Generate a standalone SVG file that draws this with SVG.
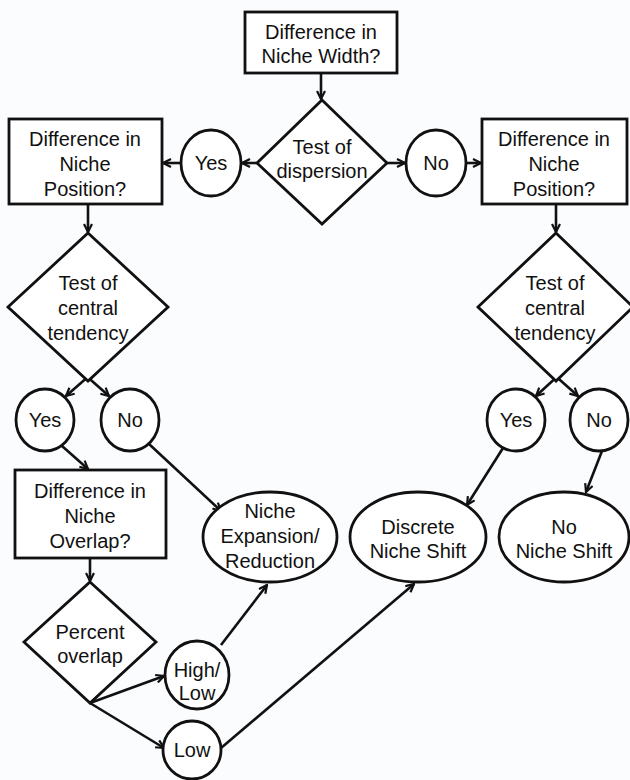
<svg xmlns="http://www.w3.org/2000/svg" width="630" height="780" viewBox="0 0 630 780">
<defs>
<marker id="ah" viewBox="0 0 10 10" refX="9" refY="5" markerWidth="10" markerHeight="10" markerUnits="userSpaceOnUse" orient="auto">
<path d="M1,1 L9,5 L1,9" fill="none" stroke="#111" stroke-width="2.2" stroke-linejoin="miter"/>
</marker>
<style>
.s{fill:#ffffff;stroke:#111;stroke-width:2.8}
.t{font-family:"Liberation Sans",Arial,sans-serif;font-size:20px;fill:#111;text-anchor:middle}
.c{fill:none;stroke:#111;stroke-width:2.6}
.a{marker-end:url(#ah)}
</style>
</defs>
<rect width="630" height="780" fill="#fbfcfe"/>
<g id="connectors" class="c">
<line class="a" x1="321" y1="73" x2="321" y2="99"/>
<line class="a" x1="257" y1="163" x2="242" y2="163"/>
<line class="a" x1="181" y1="163" x2="163" y2="163"/>
<line class="a" x1="387" y1="163" x2="405" y2="163"/>
<line class="a" x1="466" y1="163" x2="481" y2="163"/>
<line class="a" x1="88" y1="204" x2="88" y2="232"/>
<line class="a" x1="556" y1="204" x2="556" y2="232"/>
<line class="a" x1="168" y1="307" x2="66" y2="396"/>
<line class="a" x1="8" y1="307" x2="109" y2="396"/>
<line class="a" x1="633" y1="307" x2="536" y2="396"/>
<line class="a" x1="478" y1="307" x2="578" y2="396"/>
<line class="a" x1="62" y1="446" x2="88" y2="469"/>
<line class="a" x1="149" y1="444" x2="221" y2="511"/>
<line class="a" x1="503" y1="448" x2="467" y2="505"/>
<line class="a" x1="602" y1="451" x2="586" y2="492"/>
<line class="a" x1="90" y1="558" x2="90" y2="581"/>
<line class="a" x1="90" y1="703" x2="164" y2="676"/>
<line class="a" x1="90" y1="703" x2="164" y2="748"/>
<line class="a" x1="221" y1="645" x2="267" y2="585"/>
<line class="a" x1="221" y1="748" x2="414" y2="584"/>
</g>
<g id="n-width"><rect class="s" x="245" y="12" width="152" height="61"/><text class="t" x="321" y="39">Difference in</text><text class="t" x="321" y="63">Niche Width?</text></g>
<g id="n-dispersion"><polygon class="s" points="322,100 387,163 322,224 257,163"/><text class="t" x="322" y="154">Test of</text><text class="t" x="322" y="178">dispersion</text></g>
<g id="n-yes1"><ellipse class="s" cx="211" cy="163" rx="30" ry="33"/><text class="t" x="211" y="170">Yes</text></g>
<g id="n-no1"><ellipse class="s" cx="436" cy="163" rx="30" ry="33"/><text class="t" x="436" y="170">No</text></g>
<g id="n-posL"><rect class="s" x="9" y="119" width="153" height="85"/><text class="t" x="85" y="146">Difference in</text><text class="t" x="85" y="171">Niche</text><text class="t" x="85" y="196">Position?</text></g>
<g id="n-posR"><rect class="s" x="482" y="119" width="145" height="85"/><text class="t" x="554" y="146">Difference in</text><text class="t" x="554" y="171">Niche</text><text class="t" x="554" y="196">Position?</text></g>
<g id="n-ctL"><path class="s" d="M88,233 L168,307 L88,381 L8,307 Z"/><text class="t" x="88" y="290">Test of</text><text class="t" x="88" y="315">central</text><text class="t" x="88" y="340">tendency</text></g>
<g id="n-ctR"><path class="s" d="M556,233 L633,307 L556,381 L478,307 Z"/><text class="t" x="555" y="290">Test of</text><text class="t" x="555" y="315">central</text><text class="t" x="555" y="340">tendency</text></g>
<g id="n-yesL"><ellipse class="s" cx="45" cy="420" rx="29" ry="31"/><text class="t" x="45" y="427">Yes</text></g>
<g id="n-noL"><ellipse class="s" cx="130" cy="420" rx="29" ry="31"/><text class="t" x="130" y="427">No</text></g>
<g id="n-yesR"><ellipse class="s" cx="516" cy="420" rx="29" ry="31"/><text class="t" x="516" y="427">Yes</text></g>
<g id="n-noR"><ellipse class="s" cx="599" cy="420" rx="29" ry="31"/><text class="t" x="599" y="427">No</text></g>
<g id="n-overlap"><rect class="s" x="15" y="470" width="151" height="88"/><text class="t" x="90" y="498">Difference in</text><text class="t" x="90" y="523">Niche</text><text class="t" x="90" y="548">Overlap?</text></g>
<g id="n-expansion"><ellipse class="s" cx="270" cy="537" rx="67" ry="45"/><text class="t" x="270" y="518">Niche</text><text class="t" x="270" y="543">Expansion/</text><text class="t" x="270" y="568">Reduction</text></g>
<g id="n-discrete"><ellipse class="s" cx="418" cy="537" rx="68" ry="45"/><text class="t" x="418" y="534">Discrete</text><text class="t" x="418" y="558">Niche Shift</text></g>
<g id="n-noshift"><ellipse class="s" cx="564" cy="537" rx="65" ry="45"/><text class="t" x="564" y="534">No</text><text class="t" x="564" y="558">Niche Shift</text></g>
<g id="n-percent"><polygon class="s" points="90,582 156,642 90,703 24,642"/><text class="t" x="90" y="639">Percent</text><text class="t" x="90" y="663">overlap</text></g>
<g id="n-highlow"><ellipse class="s" cx="197" cy="675" rx="32" ry="34"/><text class="t" x="197" y="677">High/</text><text class="t" x="197" y="700">Low</text></g>
<g id="n-low"><ellipse class="s" cx="192" cy="750" rx="29" ry="29"/><text class="t" x="192" y="757">Low</text></g>
</svg>
